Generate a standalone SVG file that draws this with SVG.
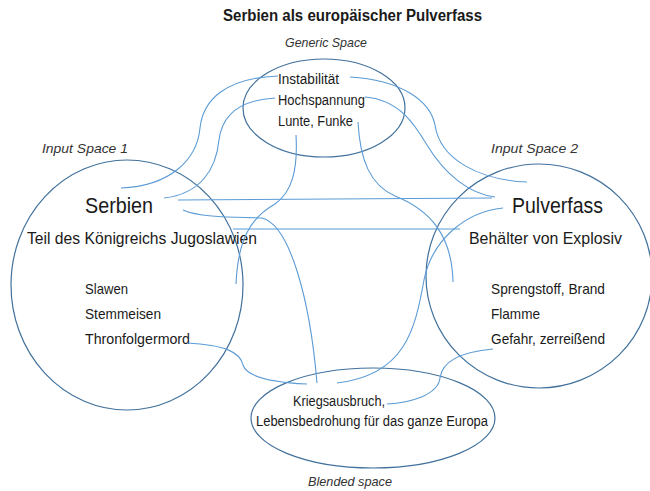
<svg xmlns="http://www.w3.org/2000/svg" width="650" height="491" viewBox="0 0 650 491">
<style>
.sp{fill:none;stroke:#41719C;stroke-width:1.2}
.c{fill:none;stroke:#5B9BD5;stroke-width:1.1}
text{font-family:"Liberation Sans","DejaVu Sans",sans-serif;fill:#1a1a1a}
.lbl{font-style:italic;fill:#333;font-size:13.5px}
.t{font-size:14px}
.big{font-size:22px}
.mid{font-size:17px}
.it{font-size:15px}
</style>
<rect width="650" height="491" fill="#fff"/>
<text x="223" y="21" font-size="16" font-weight="bold" textLength="259" lengthAdjust="spacingAndGlyphs">Serbien als europäischer Pulverfass</text>

<g id="generic">
<ellipse class="sp" cx="324" cy="108" rx="81" ry="49"/>
<text class="lbl" x="285" y="47" textLength="82" lengthAdjust="spacingAndGlyphs">Generic Space</text>
<text class="t" x="278" y="83.5" textLength="61" lengthAdjust="spacingAndGlyphs">Instabilität</text>
<text class="t" x="278" y="104.5" textLength="87" lengthAdjust="spacingAndGlyphs">Hochspannung</text>
<text class="t" x="278" y="125.5" textLength="75" lengthAdjust="spacingAndGlyphs">Lunte, Funke</text>
</g>

<g id="input1">
<ellipse class="sp" cx="127" cy="285" rx="116" ry="125"/>
<text class="lbl" x="42" y="152.5" font-size="14" textLength="86" lengthAdjust="spacingAndGlyphs">Input Space 1</text>
<text class="big" x="85" y="212.5" textLength="68" lengthAdjust="spacingAndGlyphs">Serbien</text>
<text class="mid" x="27" y="243.5" textLength="230" lengthAdjust="spacingAndGlyphs">Teil des Königreichs Jugoslawien</text>
<text class="it" x="85" y="294" textLength="43" lengthAdjust="spacingAndGlyphs">Slawen</text>
<text class="it" x="85" y="319" textLength="76" lengthAdjust="spacingAndGlyphs">Stemmeisen</text>
<text class="it" x="85" y="344" textLength="105" lengthAdjust="spacingAndGlyphs">Thronfolgermord</text>
</g>

<g id="input2">
<ellipse class="sp" cx="539" cy="276" rx="113" ry="112"/>
<text class="lbl" x="491" y="152.5" font-size="14" textLength="87" lengthAdjust="spacingAndGlyphs">Input Space 2</text>
<text class="big" x="512" y="212.5" textLength="91" lengthAdjust="spacingAndGlyphs">Pulverfass</text>
<text class="mid" x="469" y="243.5" textLength="153" lengthAdjust="spacingAndGlyphs">Behälter von Explosiv</text>
<text class="it" x="491" y="294" textLength="114" lengthAdjust="spacingAndGlyphs">Sprengstoff, Brand</text>
<text class="it" x="491" y="319" textLength="49" lengthAdjust="spacingAndGlyphs">Flamme</text>
<text class="it" x="491" y="344" textLength="114" lengthAdjust="spacingAndGlyphs">Gefahr, zerreißend</text>
</g>

<g id="blended">
<ellipse class="sp" cx="373" cy="418" rx="122" ry="50"/>
<text class="t" x="293" y="405.5" textLength="92" lengthAdjust="spacingAndGlyphs">Kriegsausbruch,</text>
<text class="t" x="256" y="426" textLength="232" lengthAdjust="spacingAndGlyphs">Lebensbedrohung für das ganze Europa</text>
<text class="lbl" x="308" y="485.5" font-size="13" textLength="84" lengthAdjust="spacingAndGlyphs">Blended space</text>
</g>

<g id="connectors">
<path class="c" d="M278,76 C225,78 203,100 200,128 C197,160 170,186 121,188"/>
<path class="c" d="M275,98 C240,100 222,115 219,140 C216,170 200,194 164,198"/>
<path class="c" d="M350,77 C400,80 430,100 435,125 C440,160 480,180 527,182"/>
<path class="c" d="M365,97 C400,100 415,125 427,145 C445,175 470,194 495,197"/>
<path class="c" d="M296,135 C298,170 292,192 275,204 C250,218 238,240 236,284"/>
<path class="c" d="M358,122 C360,160 370,185 395,196 C430,210 452,235 453,282"/>
<path class="c" d="M178,200 L492,198"/>
<path class="c" d="M233,229 L460,229"/>
<path class="c" d="M183,210 C200,218 240,217 262,218 C290,225 310,300 317,383"/>
<path class="c" d="M503,208 C465,212 432,240 424,280 C415,330 405,375 337,383"/>
<path class="c" d="M187,343 C225,345 240,352 243,365 C248,380 285,383 307,384"/>
<path class="c" d="M493,349 C460,352 442,362 440,378 C438,395 410,403 387,404"/>
</g>
</svg>
